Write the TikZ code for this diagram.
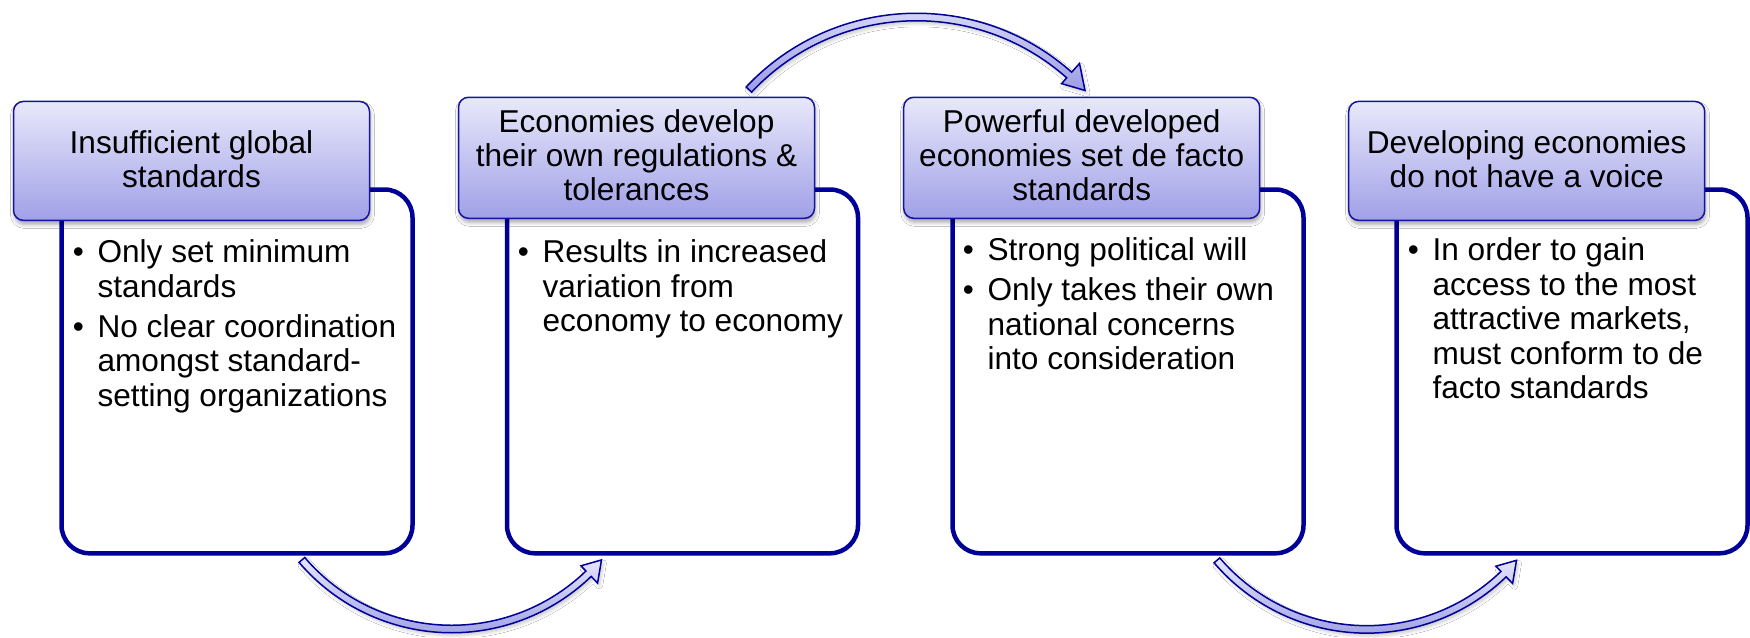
\documentclass[tikz,border=0pt]{standalone}
\usepackage{fontspec}
\setmainfont{Liberation Sans}
\usetikzlibrary{shadows.blur}
\definecolor{navy}{RGB}{0,0,153}
\definecolor{hdrline}{RGB}{20,20,160}
\definecolor{hdrtop}{RGB}{232,232,250}
\definecolor{hdrbot}{RGB}{160,160,232}
\definecolor{arrtop}{RGB}{230,230,250}
\definecolor{arrbot}{RGB}{156,156,228}
\newcommand\bul{\makebox[12.35pt][l]{\textbullet}}
\begin{document}
\begin{tikzpicture}[x=0.5pt,y=-0.5pt,
  bodybox/.style={draw=navy, line width=2.25pt, fill=white, rounded corners=14pt,
    minimum width=175.5pt, minimum height=181.9pt, inner sep=0pt},
  hdrbox/.style={draw=hdrline, line width=0.75pt, top color=hdrtop, bottom color=hdrbot,
    rounded corners=5pt, minimum width=178pt, inner sep=0pt,
    blur shadow={shadow xshift=0.5pt, shadow yshift=-2pt, shadow blur radius=2pt, shadow opacity=35}},
  htext/.style={anchor=base, inner sep=0pt, font=\fontsize{15.8pt}{16.9pt}\selectfont},
  btext/.style={anchor=base west, inner sep=0pt, font=\fontsize{15.8pt}{17.3pt}\selectfont},
  carrow/.style={draw=navy, line width=0.75pt, top color=arrtop, bottom color=arrbot, line join=miter,
    blur shadow={shadow xshift=1pt, shadow yshift=-1.5pt, shadow blur radius=1.5pt, shadow opacity=20}}
]
\path[use as bounding box, fill=white] (0,0) rectangle (1750,637);

% body boxes
\node[bodybox] (b1) at (237,371.4) {};
\node[bodybox] (b2) at (682.5,371.4) {};
\node[bodybox] (b3) at (1128,371.4) {};
\node[bodybox] (b4) at (1572,371.4) {};

% header boxes
\node[hdrbox, minimum height=59.5pt] (h1) at (191.5,160.9) {};
\node[hdrbox, minimum height=60.5pt] (h2) at (636.5,157.8) {};
\node[hdrbox, minimum height=60.5pt] (h3) at (1081.7,157.8) {};
\node[hdrbox, minimum height=59.5pt] (h4) at (1526.7,160.9) {};

% header texts
\node[htext] (ht1) at (191.5,153.3) {\begin{tabular}[t]{@{}c@{}}Insufficient global\\standards\end{tabular}};
\node[htext] (ht2) at (636.5,132.7) {\begin{tabular}[t]{@{}c@{}}Economies develop\\their own regulations \&\\tolerances\end{tabular}};
\node[htext] (ht3) at (1081.7,132.7) {\begin{tabular}[t]{@{}c@{}}Powerful developed\\economies set de facto\\standards\end{tabular}};
\node[htext] (ht4) at (1526.7,153.3) {\begin{tabular}[t]{@{}c@{}}Developing economies\\do not have a voice\end{tabular}};

% body texts
\node[btext] (bt1) at (72.5,262.5) {\begin{tabular}[t]{@{}l@{}l@{}}\bul & Only set minimum\\ & standards\\[2.8pt]\bul & No clear coordination\\ & amongst standard-\\ & setting organizations\end{tabular}};
\node[btext] (bt2) at (517.5,262.5) {\begin{tabular}[t]{@{}l@{}l@{}}\bul & Results in increased\\ & variation from\\ & economy to economy\end{tabular}};
\node[btext] (bt3) at (962.5,260.5) {\begin{tabular}[t]{@{}l@{}l@{}}\bul & Strong political will\\[2.8pt]\bul & Only takes their own\\ & national concerns\\ & into consideration\end{tabular}};
\node[btext] (bt4) at (1407.5,260.5) {\begin{tabular}[t]{@{}l@{}l@{}}\bul & In order to gain\\ & access to the most\\ & attractive markets,\\ & must conform to de\\ & facto standards\end{tabular}};

% curved arrows
\path[carrow, shift={(451.7,432)}] (139.5:200.75) arc[start angle=139.5, end angle=46, radius=200.75]
  -- (46:210) -- (40.5:197) -- (46:186) -- (46:193.25)
  arc[start angle=46, end angle=139.5, radius=193.25] -- cycle;
\path[carrow, shift={(916.5,247)}] (223.2:233.75) arc[start angle=223.2, end angle=311.6, radius=233.75]
  -- (311.6:245.5) -- (317.1:230) -- (311.6:218.5) -- (311.6:226.25)
  arc[start angle=311.6, end angle=223.2, radius=226.25] -- cycle;
\path[carrow, shift={(1366.7,432.4)}] (139.5:200.75) arc[start angle=139.5, end angle=46, radius=200.75]
  -- (46:210) -- (40.5:197) -- (46:186) -- (46:193.25)
  arc[start angle=46, end angle=139.5, radius=193.25] -- cycle;
\end{tikzpicture}
\end{document}
